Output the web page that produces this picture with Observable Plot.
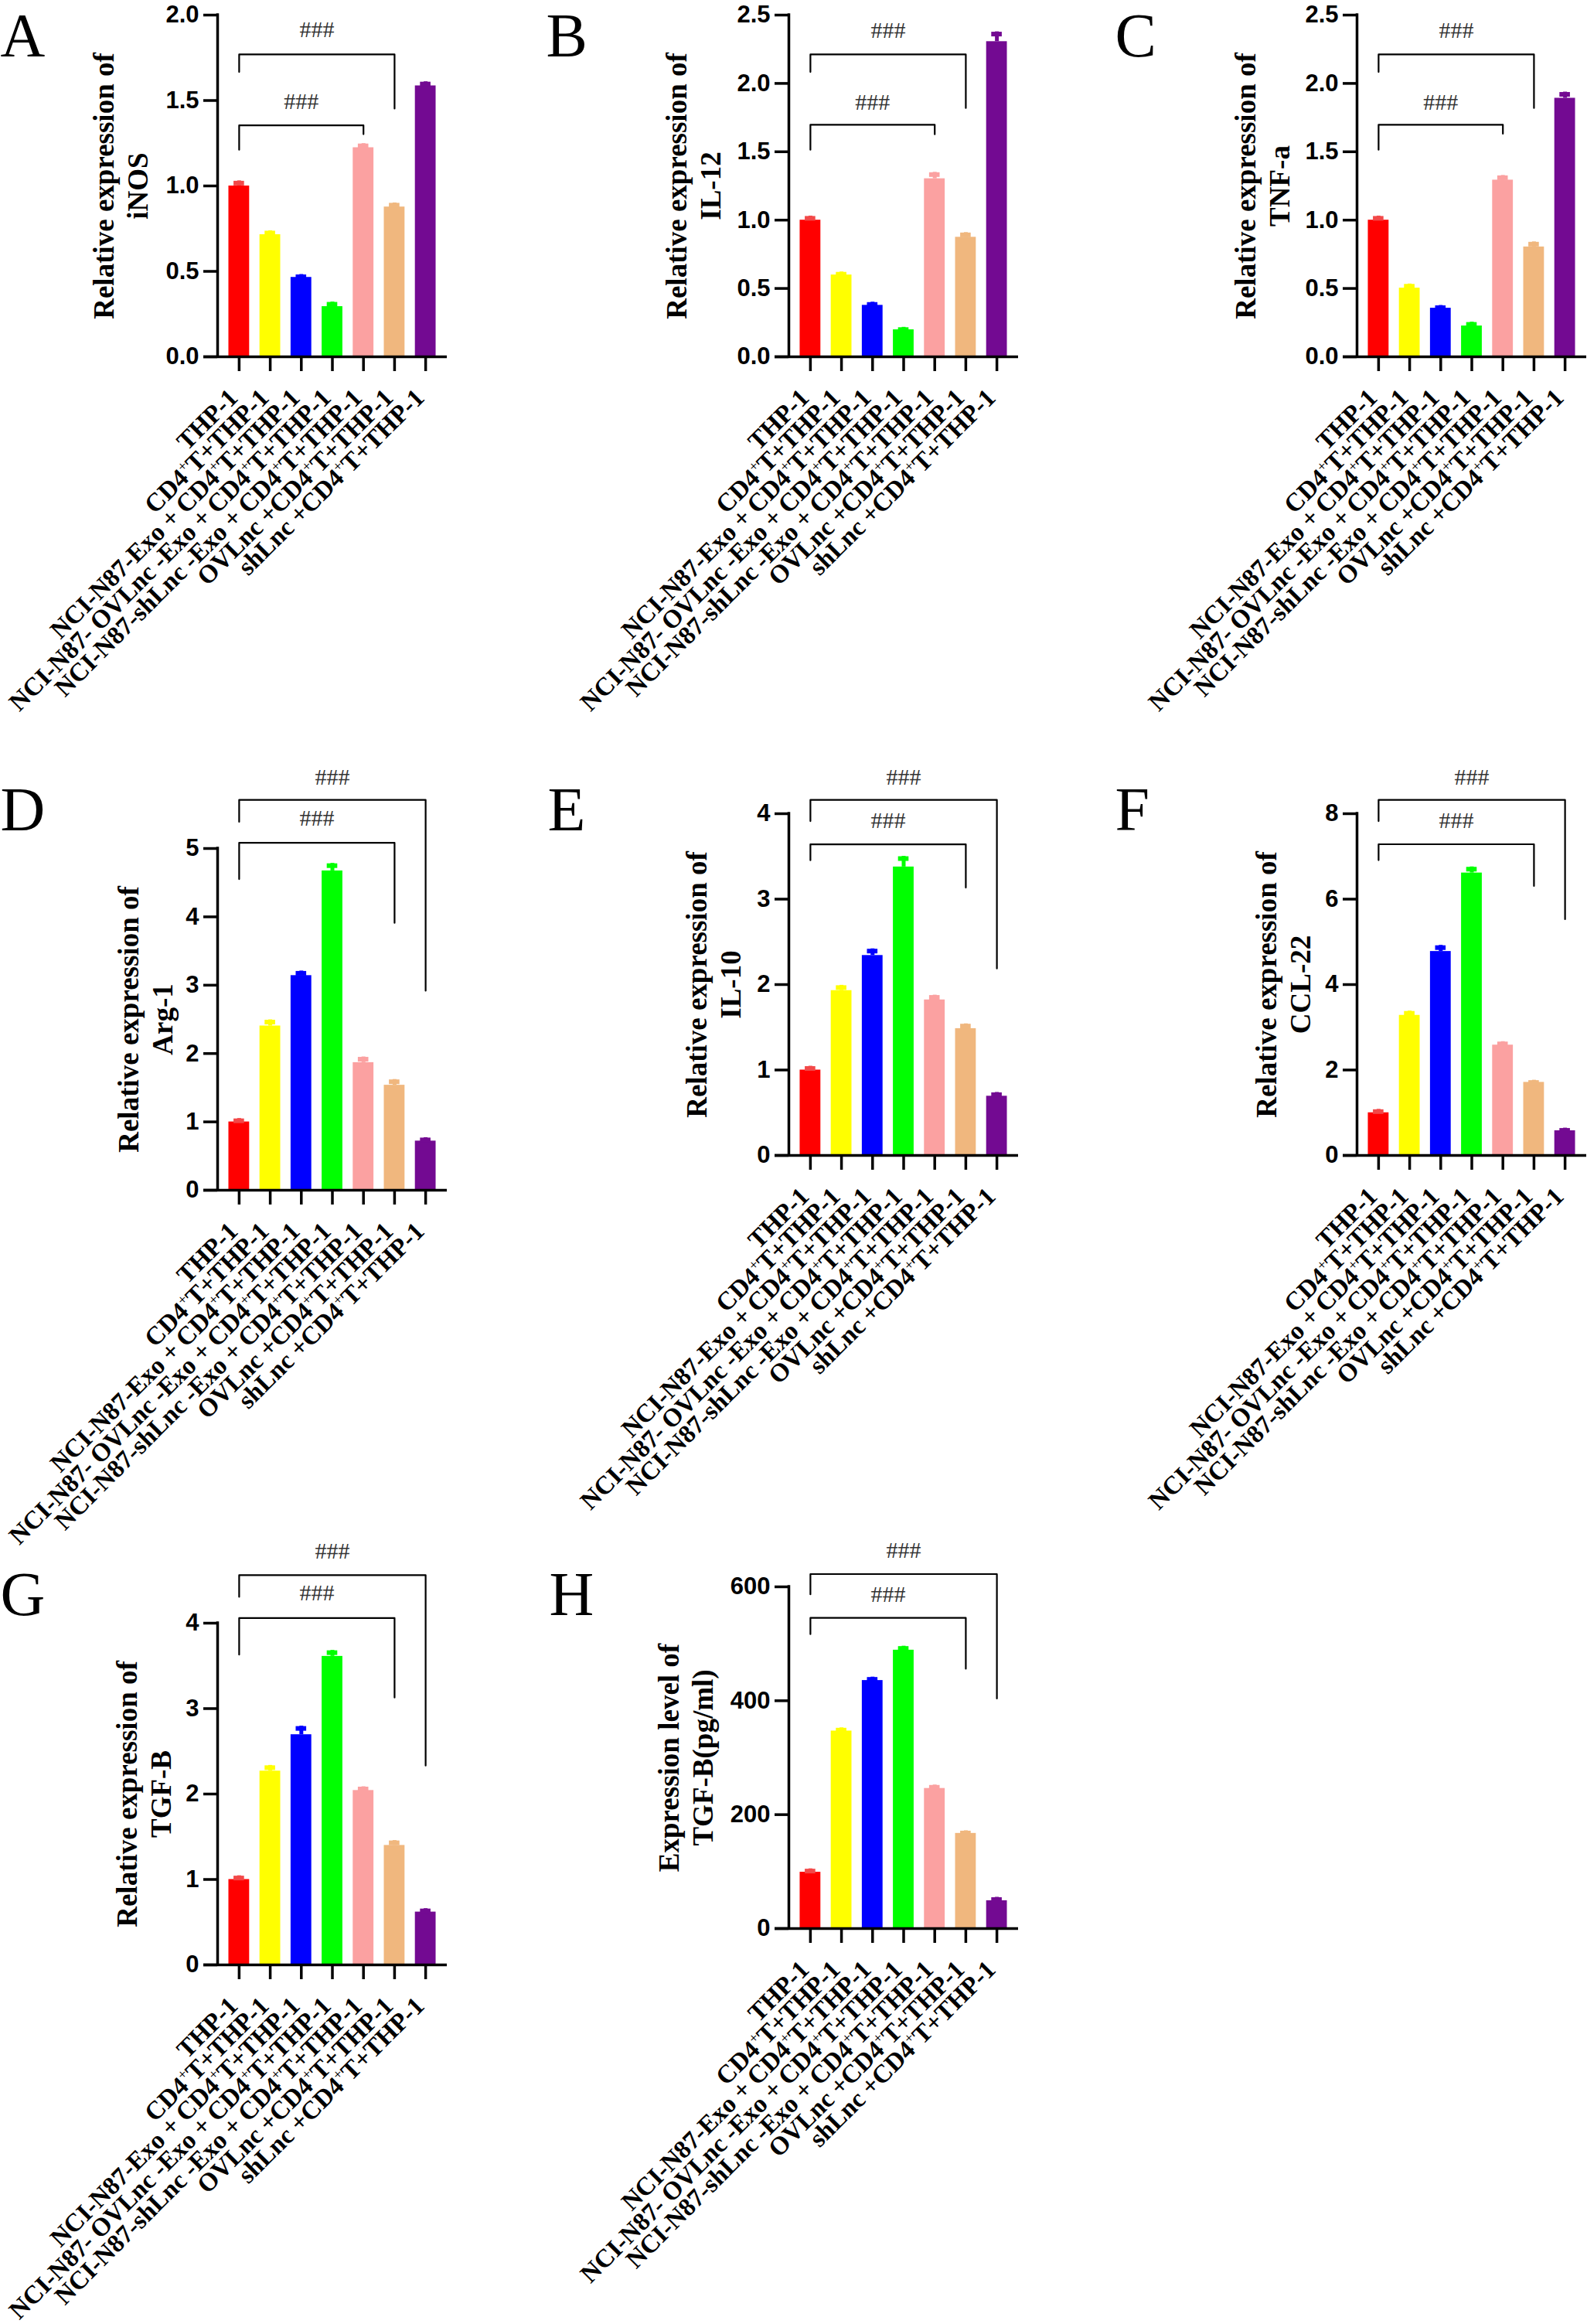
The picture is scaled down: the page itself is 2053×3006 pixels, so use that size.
<!DOCTYPE html>
<html><head><meta charset="utf-8">
<script src="https://cdn.jsdelivr.net/npm/d3@7"></script>
<script src="https://cdn.jsdelivr.net/npm/@observablehq/plot@0.6"></script>
<style>
html,body{margin:0;padding:0;background:#fff;}
#root{position:relative;width:2053px;height:3006px;overflow:hidden;background:#fff;}
</style></head><body><div id="root"></div>
<script>
// ---------- data ----------
const categories = [
  "THP-1",
  "CD4⁺T+THP-1",
  "NCI-N87-Exo + CD4⁺T+THP-1",
  "NCI-N87- OVLnc -Exo + CD4⁺T+THP-1",
  "NCI-N87-shLnc -Exo + CD4⁺T+THP-1",
  "OVLnc +CD4⁺T+THP-1",
  "shLnc +CD4⁺T+THP-1"
];
const barColors = ["#FF0000", "#FFFF00", "#0000FF", "#00FF00", "#FBA1A1", "#F0B77E", "#730A92"];
const capColors = ["#F24848", "#FFFF00", "#0000FF", "#00FF00", "#FBA1A1", "#F0B77E", "#730A92"];

const valuesA = [1.0, 0.715, 0.465, 0.294, 1.224, 0.877, 1.586];
const errorsA = [0.03, 0.023, 0.017, 0.027, 0.024, 0.024, 0.024];
const valuesB = [1.0, 0.599, 0.377, 0.198, 1.303, 0.875, 2.306];
const errorsB = [0.03, 0.022, 0.023, 0.018, 0.047, 0.034, 0.072];
const valuesC = [1.0, 0.503, 0.356, 0.226, 1.293, 0.804, 1.892];
const errorsC = [0.03, 0.03, 0.02, 0.028, 0.034, 0.037, 0.045];
const valuesD = [1.0, 2.404, 3.141, 4.673, 1.868, 1.537, 0.72];
const errorsD = [0.05, 0.09, 0.067, 0.11, 0.083, 0.084, 0.05];
const valuesE = [1.0, 1.93, 2.341, 3.377, 1.821, 1.485, 0.694];
const errorsE = [0.045, 0.062, 0.078, 0.125, 0.056, 0.056, 0.044];
const valuesF = [1.0, 3.281, 4.776, 6.613, 2.584, 1.712, 0.579];
const errorsF = [0.08, 0.1, 0.143, 0.143, 0.081, 0.05, 0.062];
const valuesG = [1.0, 2.269, 2.695, 3.612, 2.042, 1.399, 0.619];
const errorsG = [0.044, 0.067, 0.1, 0.07, 0.044, 0.057, 0.04];
const valuesH = [99, 346.9, 435.6, 488.9, 246.1, 167.2, 49.0];
const errorsH = [6, 5.6, 6, 7, 6, 4.6, 6];

const ticksA = [0, 0.5, 1.0, 1.5, 2.0];
const ticksB = [0, 0.5, 1.0, 1.5, 2.0, 2.5];
const ticksC = [0, 0.5, 1.0, 1.5, 2.0, 2.5];
const ticksD = [0, 1, 2, 3, 4, 5];
const ticksE = [0, 1, 2, 3, 4];
const ticksF = [0, 2, 4, 6, 8];
const ticksG = [0, 1, 2, 3, 4];
const ticksH = [0, 200, 400, 600];

const titleA = "Relative expression of\niNOS";
const titleB = "Relative expression of\nIL-12";
const titleC = "Relative expression of\nTNF-a";
const titleD = "Relative expression of\nArg-1";
const titleE = "Relative expression of\nIL-10";
const titleF = "Relative expression of\nCCL-22";
const titleG = "Relative expression of\nTGF-B";
const titleH = "Expression level of\nTGF-B(pg/ml)";

// significance brackets: from bar, to bar, bracket top, left-leg end, right-leg end, label height, label
const bracketsA = [
  {from: 0, to: 4, top: 1.355, leftEnd: 1.212, rightEnd: 1.303, textY: 1.494, mark: "###"},
  {from: 0, to: 5, top: 1.77, leftEnd: 1.667, rightEnd: 1.453, textY: 1.913, mark: "###"}
];
const bracketsB = [
  {from: 0, to: 4, top: 1.698, leftEnd: 1.515, rightEnd: 1.628, textY: 1.864, mark: "###"},
  {from: 0, to: 5, top: 2.212, leftEnd: 2.084, rightEnd: 1.82, textY: 2.387, mark: "###"}
];
const bracketsC = [
  {from: 0, to: 4, top: 1.698, leftEnd: 1.515, rightEnd: 1.632, textY: 1.864, mark: "###"},
  {from: 0, to: 5, top: 2.212, leftEnd: 2.084, rightEnd: 1.82, textY: 2.387, mark: "###"}
];
const bracketsD = [
  {from: 0, to: 5, top: 5.084, leftEnd: 4.552, rightEnd: 3.911, textY: 5.44, mark: "###"},
  {from: 0, to: 6, top: 5.712, leftEnd: 5.39, rightEnd: 2.919, textY: 6.047, mark: "###"}
];
const bracketsE = [
  {from: 0, to: 5, top: 3.642, leftEnd: 3.455, rightEnd: 3.135, textY: 3.922, mark: "###"},
  {from: 0, to: 6, top: 4.162, leftEnd: 3.913, rightEnd: 2.188, textY: 4.43, mark: "###"}
];
const bracketsF = [
  {from: 0, to: 5, top: 7.285, leftEnd: 6.912, rightEnd: 6.308, textY: 7.84, mark: "###"},
  {from: 0, to: 6, top: 8.325, leftEnd: 7.827, rightEnd: 5.529, textY: 8.86, mark: "###"}
];
const bracketsG = [
  {from: 0, to: 5, top: 4.06, leftEnd: 3.632, rightEnd: 3.13, textY: 4.351, mark: "###"},
  {from: 0, to: 6, top: 4.562, leftEnd: 4.308, rightEnd: 2.333, textY: 4.843, mark: "###"}
];
const bracketsH = [
  {from: 0, to: 5, top: 545.4, leftEnd: 516.9, rightEnd: 456.2, textY: 586.9, mark: "###"},
  {from: 0, to: 6, top: 622.4, leftEnd: 586.9, rightEnd: 403.9, textY: 664.4, mark: "###"}
];

// ---------- layout ----------
const cols = [[0, 700], [700, 1436], [1436, 2053]];
const rows = [[0, 960], [960, 1960], [1960, 3006]];
const panels = [
  {letter: "A", values: valuesA, errors: errorsA, ticks: ticksA, dec: true,  title: titleA, brackets: bracketsA, col: 0, row: 0, axisX: 281,  top: 19,   zero: 461,  letterX: 0,    letterY: 72,   titleDx: -127},
  {letter: "B", values: valuesB, errors: errorsB, ticks: ticksB, dec: true,  title: titleB, brackets: bracketsB, col: 1, row: 0, axisX: 1020, top: 19,   zero: 461,  letterX: 706,  letterY: 72,   titleDx: -125},
  {letter: "C", values: valuesC, errors: errorsC, ticks: ticksC, dec: true,  title: titleC, brackets: bracketsC, col: 2, row: 0, axisX: 1755, top: 19,   zero: 461,  letterX: 1442, letterY: 72,   titleDx: -124},
  {letter: "D", values: valuesD, errors: errorsD, ticks: ticksD, dec: false, title: titleD, brackets: bracketsD, col: 0, row: 1, axisX: 281,  top: 1097, zero: 1539, letterX: 0,    letterY: 1073, titleDx: -95},
  {letter: "E", values: valuesE, errors: errorsE, ticks: ticksE, dec: false, title: titleE, brackets: bracketsE, col: 1, row: 1, axisX: 1020, top: 1052, zero: 1494, letterX: 708,  letterY: 1073, titleDx: -99},
  {letter: "F", values: valuesF, errors: errorsF, ticks: ticksF, dec: false, title: titleF, brackets: bracketsF, col: 2, row: 1, axisX: 1755, top: 1052, zero: 1494, letterX: 1442, letterY: 1073, titleDx: -97},
  {letter: "G", values: valuesG, errors: errorsG, ticks: ticksG, dec: false, title: titleG, brackets: bracketsG, col: 0, row: 2, axisX: 281,  top: 2099, zero: 2541, letterX: 0,    letterY: 2088, titleDx: -97},
  {letter: "H", values: valuesH, errors: errorsH, ticks: ticksH, dec: false, title: titleH, brackets: bracketsH, col: 1, row: 2, axisX: 1020, top: 2052, zero: 2494, letterX: 710,  letterY: 2088, titleDx: -135}
];

const serif = '"Liberation Serif", "Times New Roman", Times, serif';
const sans = '"Liberation Sans", Arial, Helvetica, sans-serif';
const RANGE = 297, PI = 0.333, PO = 0.36;
const STEP = RANGE / (categories.length - PI + 2 * PO);
const AXIS_OFFSET = STEP * PO + STEP * (1 - PI) / 2;
const ns = "http://www.w3.org/2000/svg";
const root = document.getElementById("root");

function supify(svg) {
  svg.querySelectorAll('g[aria-label="x-axis tick label"] text').forEach(t => {
    const s = t.textContent;
    if (!s.includes("⁺")) return;
    const parts = s.split("⁺");
    t.textContent = "";
    parts.forEach((p, i) => {
      const span = document.createElementNS(ns, "tspan");
      span.textContent = p;
      if (i > 0) {
        const sup = document.createElementNS(ns, "tspan");
        sup.textContent = "+";
        sup.setAttribute("font-size", "19");
        sup.setAttribute("font-weight", "normal");
        sup.setAttribute("dy", "-13");
        t.appendChild(sup);
        span.setAttribute("dy", "13");
      }
      t.appendChild(span);
    });
  });
}

panels.forEach(p => {
  const [cx0, cx1] = cols[p.col];
  const [cy0, cy1] = rows[p.row];
  const ML = p.axisX - cx0, MR = cx1 - (p.axisX + RANGE);
  const MT = p.top - cy0, MB = cy1 - p.zero;
  const plotH = p.zero - p.top;
  const width = cx1 - cx0;
  const height = cy1 - cy0;
  const ymax = p.ticks[p.ticks.length - 1];
  const data = categories.map((c, i) => ({cat: c, v: p.values[i], e: p.errors[i], fill: barColors[i], cap: capColors[i]}));
  const lines = [];
  p.brackets.forEach((b, k) => {
    lines.push({k, x: categories[b.from], y: b.leftEnd},
               {k, x: categories[b.from], y: b.top},
               {k, x: categories[b.to], y: b.top},
               {k, x: categories[b.to], y: b.rightEnd});
  });
  const markTexts = p.brackets.map(b => {
    const m = (b.from + b.to) / 2;
    return Plot.text([b], {
      x: () => categories[Math.floor(m)], y: "textY", text: "mark",
      dx: (m % 1) ? STEP / 2 : 0,
      fontSize: 30, fontFamily: serif, fill: "#333", textAnchor: "middle", lineAnchor: "middle"
    });
  });
  const svg = Plot.plot({
    width, height,
    marginLeft: ML, marginRight: MR, marginTop: MT, marginBottom: MB,
    style: {background: "transparent", overflow: "visible", maxWidth: "none", fontFamily: sans},
    x: {type: "band", domain: categories, range: [ML, ML + RANGE], paddingInner: PI, paddingOuter: PO, align: 0.5, round: false, label: null},
    y: {domain: [0, ymax], range: [MT + plotH, MT], label: null},
    color: {type: "identity"},
    marks: [
      Plot.barY(data, {x: "cat", y: "v", fill: "fill"}),
      Plot.ruleX(data, {x: "cat", y1: "v", y2: d => d.v + d.e, stroke: "cap", strokeWidth: 5}),
      Plot.tickY(data, {x: "cat", y: d => d.v + d.e, stroke: "cap", strokeWidth: 6, insetLeft: 6.6, insetRight: 6.6, dy: 3}),
      Plot.ruleY([0], {strokeWidth: 3.5, insetLeft: -18, stroke: "black"}),
      Plot.ruleX([categories[0]], {y1: 0, y2: ymax, dx: -AXIS_OFFSET, strokeWidth: 3.5, stroke: "black", strokeLinecap: "square"}),
      Plot.axisY(p.ticks, {
        tickSize: 18, tickPadding: 6, strokeWidth: 3.5, label: null,
        tickFormat: p.dec ? d3.format(".1f") : d => String(d),
        fontSize: 31, fontWeight: "bold", fontFamily: sans, fill: "black"
      }),
      Plot.axisX({
        tickSize: 19, tickPadding: 36, tickRotate: -45, strokeWidth: 3.5, label: null,
        textAnchor: "end", lineAnchor: "bottom",
        fontSize: 33, fontWeight: "bold", fontFamily: serif, fill: "black"
      }),
      Plot.line(lines, {x: "x", y: "y", z: "k", stroke: "black", strokeWidth: 2.2}),
      ...markTexts,
      Plot.text([p.title], {
        frameAnchor: "left", rotate: -90, dx: p.titleDx,
        fontSize: 37, fontWeight: "bold", fontFamily: serif, lineHeight: 1.2,
        textAnchor: "middle", lineAnchor: "middle", fill: "black"
      }),
      Plot.text([p.letter], {
        frameAnchor: "top-left", dx: p.letterX - p.axisX, dy: p.letterY - p.top,
        fontSize: 80, fontFamily: serif, textAnchor: "start", lineAnchor: "bottom", fill: "black"
      })
    ]
  });
  supify(svg);
  svg.style.position = "absolute";
  svg.style.left = cx0 + "px";
  svg.style.top = cy0 + "px";
  root.appendChild(svg);
});
</script>
</body></html>
